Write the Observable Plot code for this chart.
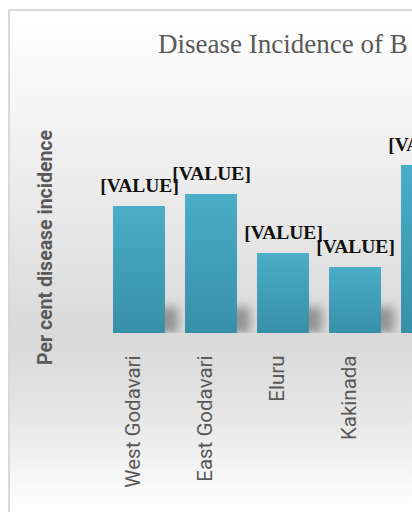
<!DOCTYPE html>
<html><head><meta charset="utf-8">
<script src="https://cdn.jsdelivr.net/npm/d3@7"></script>
<script src="https://cdn.jsdelivr.net/npm/@observablehq/plot@0.6"></script>
<style>
html,body{margin:0;padding:0;background:#fff;}
#wrap{position:relative;width:412px;height:512px;overflow:hidden;}
#panel{position:absolute;left:8px;top:9px;width:470px;height:520px;border-left:2px solid #d9d9d9;border-top:2px solid #d9d9d9;
  background:linear-gradient(to bottom,#ffffff 0%,#f7f7f7 15%,#d9d9d9 63%,#e6e6e6 78%,#ffffff 96%);}
#title{position:absolute;left:158px;top:31px;font:27px/27px "Liberation Serif",serif;color:#595959;white-space:nowrap;}
#chart{position:absolute;left:0;top:0;width:473px;}
#chart svg{max-width:none !important;}
</style></head><body>
<div id="wrap"><div id="panel"></div><div id="title"></div><div id="chart"></div></div>
<script>
const titleText = "Disease Incidence of B";
const yLabel = "Per cent disease incidence";
const categories = ["West Godavari", "East Godavari", "Eluru", "Kakinada", ""];
const values = [63.5, 69.5, 40, 33, 84];
const valueLabels = ["[VALUE]", "[VALUE]", "[VALUE]", "[VALUE]", "[VALUE]"];

const data = categories.map((c, i) => ({cat: c, value: values[i], label: valueLabels[i]}));
document.getElementById("title").textContent = titleText;

const chart = Plot.plot({
  width: 473, height: 512,
  marginLeft: 93, marginRight: 0, marginTop: 133, marginBottom: 179,
  style: {background: "transparent", overflow: "visible", maxWidth: "none"},
  x: {domain: categories, padding: 20 / 72, axis: null},
  y: {domain: [0, 100], axis: null},
  marks: [
    Plot.barY(data, {x: "cat", y1: 0, y2: d => Math.min(d.value, 13), dx: 13, fill: "#5a5a5a", fillOpacity: 0.55, ariaLabel: () => "shadow"}),
    Plot.barY(data, {x: "cat", y: "value", fill: "url(#barGrad)"}),
    Plot.text(data, {x: "cat", y: "value", text: "label", lineAnchor: "bottom", dy: -15,
      fontFamily: "Liberation Serif", fontWeight: "bold", fontSize: 19.5, fill: "#111"}),
    Plot.text(data, {x: "cat", text: "cat", frameAnchor: "bottom", rotate: -90, textAnchor: "end", dy: 22,
      fontFamily: "Roboto", fontSize: 20.5, fill: "#595959"}),
    Plot.text([yLabel], {text: d => d, frameAnchor: "left", textAnchor: "middle", rotate: -90, dx: -48, dy: 14,
      fontFamily: "Roboto", fontWeight: "bold", fontSize: 19.5, fill: "#595959"})
  ]
});

const svg = d3.select(chart);
const defs = svg.insert("defs", ":first-child");
const g = defs.append("linearGradient").attr("id", "barGrad").attr("x1", 0).attr("y1", 0).attr("x2", 0).attr("y2", 1);
g.append("stop").attr("offset", "0%").attr("stop-color", "#4badc7");
g.append("stop").attr("offset", "100%").attr("stop-color", "#3790a8");
const f = defs.append("filter").attr("id", "shadowBlur").attr("x", "-60%").attr("y", "-80%").attr("width", "220%").attr("height", "180%");
f.append("feGaussianBlur").attr("stdDeviation", 5);
svg.selectAll("[aria-label=shadow]").attr("filter", "url(#shadowBlur)");
document.getElementById("chart").appendChild(chart);
</script>
</body></html>
